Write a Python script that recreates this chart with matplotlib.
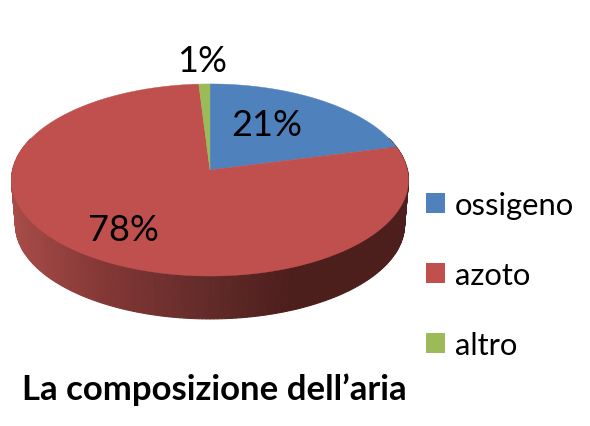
import numpy as np
import matplotlib
matplotlib.use("Agg")
import matplotlib.pyplot as plt
from matplotlib.patches import Patch

categories = ['ossigeno', 'azoto', 'altro']
values = [21, 78, 1]
pct_labels = ['21%', '78%', '1%']
colors = ['#4F81BD', '#C0504D', '#9BBB59']
title = 'La composizione dell\u2019aria'

plt.rcParams['font.family'] = ['Lato', 'DejaVu Sans']

# pie geometry in image pixels
CX, CY = 210, 171
A, B, P = 197.4, 95, 0.104
DEPTH, BOTTOM_SCALE = 45, 0.98


def project(theta, r=1.0, dy=0.0, scale=1.0):
    """Perspective view of a point on the disc, theta clockwise from the top."""
    u = r * np.sin(theta)
    v = r * np.cos(theta)
    w = 1 + P * v
    return CX + scale * A * u / w, CY + dy - scale * B * v / w


def wall_color(x):
    """Side wall gets darker from left to right."""
    stops_x = [11, 100, 200, 290, 409]
    stops = np.array([[168, 76, 73], [132, 56, 54], [100, 44, 42], [76, 30, 28], [76, 30, 28]]) / 255
    return [np.interp(x, stops_x, stops[:, i]) for i in range(3)]


fig = plt.figure(figsize=(5.9, 4.27), dpi=100)
ax = fig.add_axes([0, 0, 1, 1])
ax.set_xlim(0, 590)
ax.set_ylim(427, 0)
ax.axis('off')

# side wall
edges = np.radians(np.linspace(70, 290, 221))
for t0, t1 in zip(edges[:-1], edges[1:]):
    x0, y0 = project(t0)
    x1, y1 = project(t1)
    x2, y2 = project(t1, dy=DEPTH, scale=BOTTOM_SCALE)
    x3, y3 = project(t0, dy=DEPTH, scale=BOTTOM_SCALE)
    c = wall_color((x0 + x1) / 2)
    ax.fill([x0, x1, x2, x3], [y0, y1, y2, y3], color=c, lw=0.8, zorder=1)

# top of the pie
start = 0.0
for val, col in zip(values, colors):
    end = start + val / sum(values) * 2 * np.pi
    th = np.linspace(start, end, max(int(val * 6), 8))
    xs, ys = project(th)
    ax.fill(np.r_[CX, xs], np.r_[CY, ys], color=col, lw=0.3, zorder=2)
    start = end

# percentage labels
label_pos = [(267, 126), (123, 231), (202, 61)]
for lab, (lx, ly) in zip(pct_labels, label_pos):
    ax.text(lx, ly, lab, fontsize=26, color='black', ha='center', va='center', zorder=3)

handles = [Patch(facecolor=c, edgecolor='none', label=n) for c, n in zip(colors, categories)]
ax.legend(handles=handles, loc='upper left', bbox_to_anchor=(0.722, 0.55), frameon=False,
          fontsize=22.3, handlelength=0.6, handleheight=0.6, handletextpad=0.33,
          labelspacing=1.35, borderpad=0, borderaxespad=0, labelcolor='black')

ax.text(22, 390, title, fontsize=25, fontweight='bold', color='black', ha='left', va='center')

fig.savefig('out.png', dpi=100)
